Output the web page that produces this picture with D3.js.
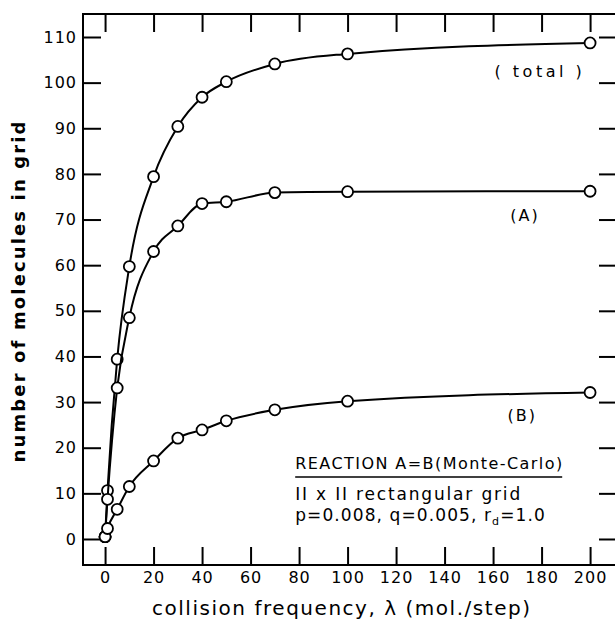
<!DOCTYPE html>
<html>
<head>
<meta charset="utf-8">
<script src="https://cdn.jsdelivr.net/npm/d3@7"></script>
<style>
  body { margin: 0; background: #fff; }
  svg { display: block; font-family: "DejaVu Sans", sans-serif; }
</style>
</head>
<body>
<svg id="chart"></svg>
<script>
// collision frequency (mol./step) and molecule counts
const lambdas = [0, 1, 5, 10, 20, 30, 40, 50, 70, 100, 200];
const totalCounts = [0.5, 10.6, 39.4, 59.7, 79.4, 90.4, 96.8, 100.2, 104.1, 106.3, 108.7];
const countsA = [0.5, 8.7, 33.1, 48.5, 63.0, 68.6, 73.5, 73.9, 75.9, 76.1, 76.2];
const countsB = [0.5, 2.3, 6.5, 11.5, 17.1, 22.1, 23.9, 25.9, 28.3, 30.2, 32.1];
const xTicks = [0, 20, 40, 60, 80, 100, 120, 140, 160, 180, 200];
const yTicks = [0, 10, 20, 30, 40, 50, 60, 70, 80, 90, 100, 110];
const seriesLabels = ['( total )', '(A)', '(B)'];

let svgWidth = 615,
    svgHeight = 620,
    margin = {top: 14, left: 83},
    width = 534,
    height = 551,
    tickLen = 18;

let svg = d3.select('#chart')
    .attr('width', svgWidth)
    .attr('height', svgHeight);

let g = svg.append('g')
    .attr('transform', `translate(${margin.left},${margin.top})`);

let x = d3.scaleLinear()
    .domain([-9.1, 211.1])
    .range([0, width]);

let y = d3.scaleLinear()
    .domain([-5.7, 115.04])
    .range([height, 0]);

// frame
g.append('rect')
    .attr('width', width)
    .attr('height', height)
    .attr('fill', 'none')
    .attr('stroke', '#000')
    .attr('stroke-width', 2);

let styleAxis = sel => {
    sel.select('.domain').remove();
    sel.selectAll('.tick line').attr('stroke', '#000').attr('stroke-width', 2);
    sel.selectAll('.tick text')
        .attr('fill', '#000')
        .attr('font-size', 16)
        .attr('font-family', '"DejaVu Sans", sans-serif')
        .attr('letter-spacing', 1);
};

g.append('g')
    .attr('transform', `translate(0,${height})`)
    .call(d3.axisBottom(x).tickValues(xTicks).tickSize(-tickLen).tickSizeOuter(0).tickPadding(7))
    .call(styleAxis);

g.append('g')
    .call(d3.axisTop(x).tickValues(xTicks).tickSize(-tickLen).tickSizeOuter(0).tickFormat(''))
    .call(styleAxis);

g.append('g')
    .call(d3.axisLeft(y).tickValues(yTicks).tickSize(-tickLen).tickSizeOuter(0).tickPadding(6))
    .call(styleAxis);

g.append('g')
    .attr('transform', `translate(${width},0)`)
    .call(d3.axisRight(y).tickValues(yTicks).tickSize(-tickLen).tickSizeOuter(0).tickFormat(''))
    .call(styleAxis);

// curves and markers
let line = d3.line()
    .x(d => x(d[0]))
    .y(d => y(d[1]))
    .curve(d3.curveMonotoneX);

[totalCounts, countsA, countsB].forEach(vals => {
    let pts = lambdas.map((l, i) => [l, vals[i]]);
    g.append('path')
        .datum(pts)
        .attr('d', line)
        .attr('fill', 'none')
        .attr('stroke', '#000')
        .attr('stroke-width', 2);
    g.selectAll(null)
        .data(pts)
        .enter()
        .append('circle')
        .attr('cx', d => x(d[0]))
        .attr('cy', d => y(d[1]))
        .attr('r', 5.5)
        .attr('fill', '#fff')
        .attr('stroke', '#000')
        .attr('stroke-width', 1.8);
});

// series labels
let labelPos = [[179.3, 101.2], [173.2, 69.7], [172, 25.9]];
g.selectAll('.series-label')
    .data(seriesLabels)
    .enter()
    .append('text')
    .attr('class', 'series-label')
    .attr('x', (d, i) => x(labelPos[i][0]))
    .attr('y', (d, i) => y(labelPos[i][1]))
    .attr('text-anchor', 'middle')
    .attr('font-size', 16)
    .attr('letter-spacing', (d, i) => i === 0 ? 3.5 : 2)
    .text(d => d);

// reaction note
let noteX = x(78.4);
let note = g.append('g').attr('font-size', 16);
note.append('text')
    .attr('x', noteX)
    .attr('y', y(15.3))
    .attr('textLength', 267)
    .attr('lengthAdjust', 'spacing')
    .text('REACTION A=B(Monte-Carlo)');
note.append('line')
    .attr('x1', noteX)
    .attr('x2', x(188.5))
    .attr('y1', y(13.6))
    .attr('y2', y(13.6))
    .attr('stroke', '#000')
    .attr('stroke-width', 1.5);
note.append('text')
    .attr('x', noteX)
    .attr('y', y(8.5))
    .attr('font-size', 17)
    .attr('textLength', 225)
    .attr('lengthAdjust', 'spacing')
    .text('II x II rectangular grid');
let p3 = note.append('text')
    .attr('x', noteX)
    .attr('y', y(3.9))
    .attr('font-size', 17)
    .attr('letter-spacing', 1.1);
p3.append('tspan').text('p=0.008, q=0.005, r');
p3.append('tspan').attr('font-size', 11).attr('dy', 4).text('d');
p3.append('tspan').attr('dy', -4).text('=1.0');

// axis titles
svg.append('text')
    .attr('x', 341)
    .attr('y', 615)
    .attr('text-anchor', 'middle')
    .attr('font-size', 20)
    .attr('textLength', 378)
    .attr('lengthAdjust', 'spacing')
    .text('collision frequency, \u03bb (mol./step)');

svg.append('text')
    .attr('transform', 'translate(25,292) rotate(-90)')
    .attr('text-anchor', 'middle')
    .attr('font-size', 18)
    .attr('font-weight', 'bold')
    .attr('textLength', 341)
    .attr('lengthAdjust', 'spacing')
    .text('number of molecules in grid');
</script>
</body>
</html>
